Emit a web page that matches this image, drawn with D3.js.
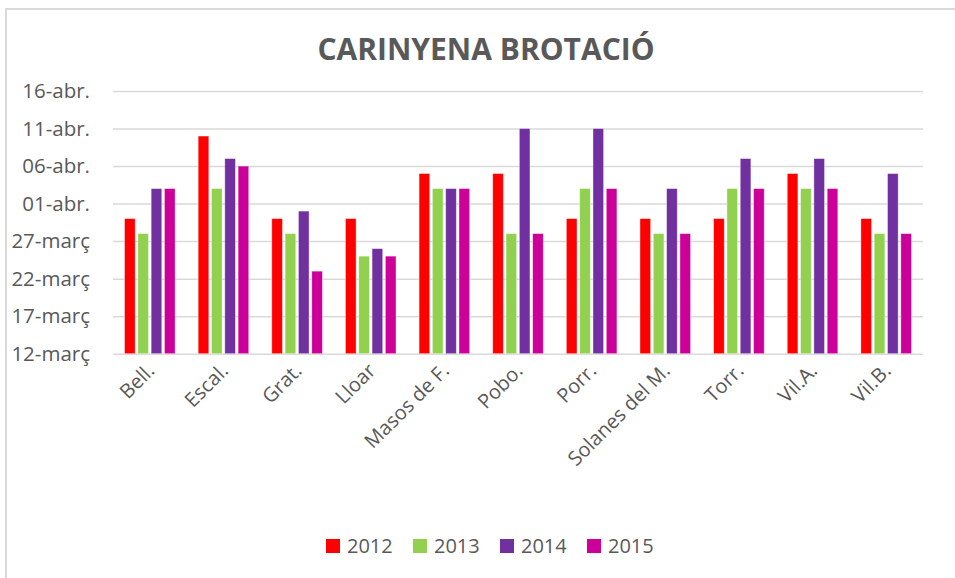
<!DOCTYPE html>
<html>
<head>
<meta charset="utf-8">
<script src="https://cdn.jsdelivr.net/npm/d3@7"></script>
<style>
  body { margin: 0; background: #fff; }
  text { font-family: "Open Sans", sans-serif; fill: #595959; }
</style>
</head>
<body>
<div id="chart"></div>
<script>
// data: budding dates (month-day), one array per year
var categories = ['Bell.', 'Escal.', 'Grat.', 'Lloar', 'Masos de F.', 'Pobo.', 'Porr.', 'Solanes del M.', 'Torr.', 'Vil.A.', 'Vil.B.'];
var years = ['2012', '2013', '2014', '2015'];
var v2012 = ['03-30', '04-10', '03-30', '03-30', '04-05', '04-05', '03-30', '03-30', '03-30', '04-05', '03-30'];
var v2013 = ['03-28', '04-03', '03-28', '03-25', '04-03', '03-28', '04-03', '03-28', '04-03', '04-03', '03-28'];
var v2014 = ['04-03', '04-07', '03-31', '03-26', '04-03', '04-11', '04-11', '04-03', '04-07', '04-07', '04-05'];
var v2015 = ['04-03', '04-06', '03-23', '03-25', '04-03', '03-28', '04-03', '03-28', '04-03', '04-03', '03-28'];
var tickDates = ['03-12', '03-17', '03-22', '03-27', '04-01', '04-06', '04-11', '04-16'];
var tickLabels = ['12-març', '17-març', '22-març', '27-març', '01-abr.', '06-abr.', '11-abr.', '16-abr.'];
var colors = { '2012': '#FF0000', '2013': '#92D050', '2014': '#7030A0', '2015': '#CC0099' };

var series = { '2012': v2012, '2013': v2013, '2014': v2014, '2015': v2015 };
var parse = d3.timeParse('%m-%d');

var width = 955, height = 578;
var plotLeft = 113, plotRight = 923, plotTop = 91, plotBottom = 353.7;

var svg = d3.select('#chart').append('svg')
    .attr('width', width)
    .attr('height', height);

// chart frame
svg.append('rect')
    .attr('x', 6).attr('y', 9)
    .attr('width', 1000).attr('height', 1000)
    .attr('fill', 'none')
    .attr('stroke', '#D9D9D9')
    .attr('stroke-width', 2);

svg.append('text')
    .attr('x', 486).attr('y', 60)
    .attr('text-anchor', 'middle')
    .style('font-size', '30px')
    .style('font-weight', 'bold')
    .text('CARINYENA BROTACIÓ');

var x0 = d3.scaleBand()
    .domain(categories)
    .range([plotLeft, plotRight])
    .paddingInner(0.313)
    .paddingOuter(0.1565);

var x1 = d3.scaleBand()
    .domain(years)
    .range([0, x0.bandwidth()])
    .paddingInner(0.2);

var y = d3.scaleTime()
    .domain([parse(tickDates[0]), parse(tickDates[tickDates.length - 1])])
    .range([plotBottom, plotTop]);

var yAxis = d3.axisLeft(y)
    .tickValues(tickDates.map(parse))
    .tickFormat(function (d, i) { return tickLabels[i]; })
    .tickSize(-(plotRight - plotLeft))
    .tickPadding(23);

svg.append('g')
    .attr('class', 'y axis')
    .attr('transform', 'translate(' + plotLeft + ',0)')
    .call(yAxis)
    .call(function (g) {
      g.select('.domain').remove();
      g.selectAll('line').attr('stroke', '#D9D9D9').attr('stroke-width', 1.5);
      g.selectAll('text').style('font-size', '20.5px').attr('fill', '#595959');
    });

var groups = svg.append('g')
  .selectAll('g')
    .data(categories)
    .enter()
  .append('g')
    .attr('transform', function (d) { return 'translate(' + x0(d) + ',0)'; });

groups.selectAll('rect')
    .data(function (d, i) {
      return years.map(function (yr) {
        return { key: yr, value: parse(series[yr][i]) };
      });
    })
    .enter()
  .append('rect')
    .attr('x', function (d) { return x1(d.key); })
    .attr('y', function (d) { return y(d.value); })
    .attr('width', x1.bandwidth())
    .attr('height', function (d) { return plotBottom - y(d.value); })
    .attr('fill', function (d) { return colors[d.key]; })
    .attr('stroke', '#fff')
    .attr('stroke-opacity', 0.5)
    .attr('stroke-width', 0.8);

// category labels, rotated
svg.append('g')
  .selectAll('text')
    .data(categories)
    .enter()
  .append('text')
    .attr('transform', function (d) {
      return 'translate(' + (x0(d) + x0.bandwidth() / 2 + 6) + ',' + 372 + ') rotate(-45)';
    })
    .attr('text-anchor', 'end')
    .style('font-size', '20px')
    .text(function (d) { return d; });

// legend
var legend = svg.append('g')
  .selectAll('g')
    .data(years)
    .enter()
  .append('g')
    .attr('transform', function (d, i) { return 'translate(' + (326 + i * 87) + ',539)'; });

legend.append('rect')
    .attr('width', 14)
    .attr('height', 14)
    .attr('fill', function (d) { return colors[d]; });

legend.append('text')
    .attr('x', 21)
    .attr('y', 14)
    .style('font-size', '20px')
    .text(function (d) { return d; });
</script>
</body>
</html>
